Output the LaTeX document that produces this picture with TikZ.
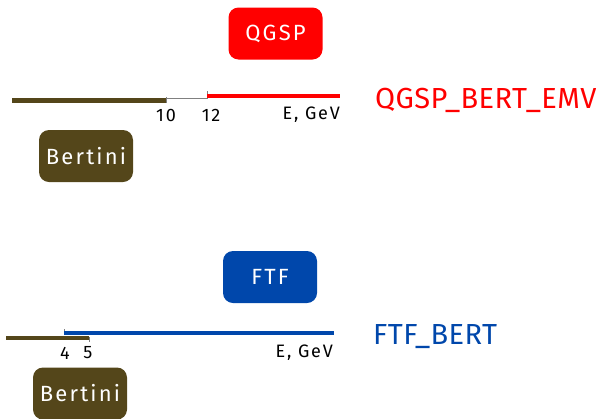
\documentclass[tikz,border=0pt]{standalone}
\usepackage{fontspec}
\setmainfont{Fira Sans}
\newfontfamily\spaced[LetterSpace=10]{Fira Sans}
\newfontfamily\titled[LetterSpace=1.5]{Fira Sans}
\definecolor{bertbrown}{RGB}{84,70,26}
\definecolor{qgspred}{RGB}{255,0,0}
\definecolor{ftfblue}{RGB}{0,71,171}
\tikzset{
  model/.style={rounded corners=10pt, minimum width=94pt, minimum height=52pt,
    inner sep=0pt, text=white, font=\spaced\fontsize{22}{24}\selectfont},
  bar/.style={line width=4.4pt},
  link/.style={line width=0.8pt, gray},
  tick/.style={font=\spaced\fontsize{18}{20}\selectfont, inner sep=0pt},
  listname/.style={font=\titled\fontsize{29}{32}\selectfont, inner sep=0pt, anchor=west}
}
\begin{document}
\begin{tikzpicture}[x=1pt,y=-1pt]
\useasboundingbox (0,0) rectangle (596,418);
\clip (0,0) rectangle (596,418);

% ---- QGSP_BERT_EMV ----
\node[model, fill=qgspred] (qgsp) at (275.5,33.5) {QGSP};
\node[model, fill=bertbrown] (bert1) at (86,156) {Bertini};
\coordinate (b1s) at (12,100.5);
\coordinate (b1e) at (166.5,100.5);
\coordinate (g1e) at (207,98.8);
\coordinate (r1s) at (207,96);
\coordinate (r1e) at (340,96);
\draw[bar, bertbrown] (b1s) -- (b1e);
\draw[link] (b1e |- g1e) -- (g1e);
\draw[link] (166.5,97) -- (166.5,103);
\draw[link] (207,91) -- (207,98.8);
\draw[bar, qgspred] (r1s) -- (r1e);
\node[tick] (t10) at (166,115) {10};
\node[tick] (t12) at (211,115) {12};
\node[tick, anchor=east] (e1) at (340,115) {E, GeV};
\node[listname, text=qgspred] (n1) at (375,100) {QGSP\_BERT\_EMV};

% ---- FTF_BERT ----
\node[model, fill=ftfblue] (ftf) at (270,277) {FTF};
\node[model, fill=bertbrown] (bert2) at (80,393.5) {Bertini};
\coordinate (b2s) at (6,338);
\coordinate (b2e) at (89,338);
\coordinate (u2s) at (64,333);
\coordinate (u2e) at (334,333);
\draw[bar, bertbrown] (b2s) -- (b2e);
\draw[link] (89,337) -- (89,342);
\draw[link] (64,329) -- (64,333);
\draw[bar, ftfblue] (u2s) -- (u2e);
\node[tick] (t4) at (65,353) {4};
\node[tick] (t5) at (88,353) {5};
\node[tick, anchor=east] (e2) at (333,353) {E, GeV};
\node[listname, text=ftfblue] (n2) at (373,337) {FTF\_BERT};
\end{tikzpicture}
\end{document}
